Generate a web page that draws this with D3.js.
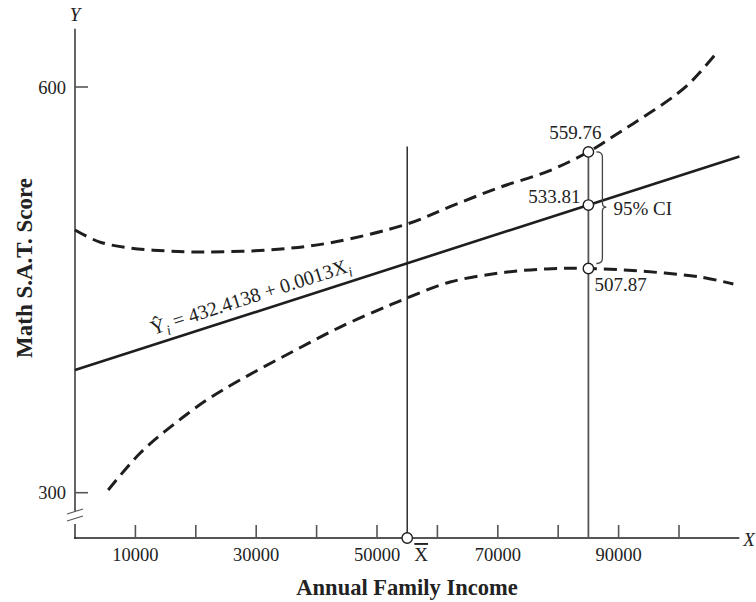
<!DOCTYPE html>
<html>
<head>
<meta charset="utf-8">
<script src="https://cdn.jsdelivr.net/npm/d3@7"></script>
<style>
  html, body { margin: 0; padding: 0; background: #fff; }
  svg text { font-family: "Liberation Serif", "Times New Roman", serif; fill: #222; }
</style>
</head>
<body>
<svg id="chart" width="756" height="602"></svg>
<script>
// ---- data ----
const xTickValues = [10000, 20000, 30000, 40000, 50000, 60000, 70000, 80000, 90000, 100000];
const xTickLabels = [10000, 30000, 50000, 70000, 90000];
const yTickValues = [300, 600];

// fitted line as drawn
const lineX = [0, 110000];
const lineY = [390.7, 548.6];

// upper 95% confidence band (as drawn)
const upperX = [0, 4000, 9000, 15000, 21000, 32000, 42000, 55000, 62000, 70000, 78500, 85000, 88600, 91400, 94000, 96900, 99700, 101800, 103500, 106000];
const upperY = [494.3, 485.5, 481.0, 478.8, 478.0, 479.5, 484.6, 498.7, 511.3, 525.3, 538.0, 552.0, 562.0, 570.0, 577.5, 586.0, 595.0, 603.0, 611.0, 624.0];

// lower 95% confidence band (as drawn)
const lowerX = [5500, 10800, 16200, 21800, 27300, 35600, 43900, 52200, 55000, 62100, 70400, 78000, 85000, 93500, 103500, 109000];
const lowerY = [302.0, 329.4, 350.0, 368.5, 383.3, 403.3, 422.5, 438.8, 444.0, 455.8, 462.5, 465.5, 465.8, 463.9, 459.5, 454.3];

const xBar = 55000;
const xBarTop = 556;
const x0 = 85000;
const ciLabels = ["559.76", "533.81", "507.87"];

// ---- scales ----
const svg = d3.select("#chart");
const x = d3.scaleLinear().domain([0, 110000]).range([75, 739.4]);
const y = d3.scaleLinear().domain([300, 600]).range([492.7, 87]);
const yAxisTop = 643;

const ink = "#1e1e1e";
const axisCol = "#555";

// ---- axes ----
// y axis (broken near bottom)
svg.append("line").attr("x1", x(0)).attr("x2", x(0)).attr("y1", y(yAxisTop)).attr("y2", 511)
  .attr("stroke", axisCol).attr("stroke-width", 1.8);
svg.append("line").attr("x1", x(0)).attr("x2", x(0)).attr("y1", 524).attr("y2", 538.8)
  .attr("stroke", axisCol).attr("stroke-width", 1.8);
// break marks
[0, 7].forEach(dy => {
  svg.append("line").attr("x1", 67).attr("y1", 514 + dy).attr("x2", 83).attr("y2", 509 + dy)
    .attr("stroke", axisCol).attr("stroke-width", 1.2);
});
// x axis
svg.append("line").attr("x1", x(0) - 0.9).attr("x2", x(110000)).attr("y1", 538).attr("y2", 538)
  .attr("stroke", ink).attr("stroke-width", 1.6);

// x ticks (pointing up)
svg.selectAll(".xt").data(xTickValues).enter().append("line")
  .attr("x1", d => x(d)).attr("x2", d => x(d)).attr("y1", 538).attr("y2", 525)
  .attr("stroke", axisCol).attr("stroke-width", 1.6);
svg.selectAll(".xl").data(xTickLabels).enter().append("text")
  .attr("x", d => x(d)).attr("y", 561).attr("text-anchor", "middle")
  .attr("font-size", 18.5).text(d => d);

// y ticks (pointing right)
svg.selectAll(".yt").data(yTickValues).enter().append("line")
  .attr("x1", x(0)).attr("x2", x(0) + 13).attr("y1", d => y(d)).attr("y2", d => y(d))
  .attr("stroke", axisCol).attr("stroke-width", 1.6);
svg.selectAll(".yl").data(yTickValues).enter().append("text")
  .attr("x", 66).attr("y", d => y(d) + 6.5).attr("text-anchor", "end")
  .attr("font-size", 18.5).text(d => d);

// axis letters
svg.append("text").attr("x", 75).attr("y", 21).attr("text-anchor", "middle")
  .attr("font-size", 19).attr("font-style", "italic").text("Y");
svg.append("text").attr("x", 749).attr("y", 546).attr("text-anchor", "middle")
  .attr("font-size", 19).attr("font-style", "italic").text("X");

// axis titles
svg.append("text").attr("x", 407).attr("y", 595).attr("text-anchor", "middle")
  .attr("font-size", 22.5).attr("font-weight", "bold").text("Annual Family Income");
svg.append("text").attr("transform", "translate(32,268) rotate(-90)").attr("text-anchor", "middle")
  .attr("font-size", 23).attr("font-weight", "bold").text("Math S.A.T. Score");

// ---- vertical reference lines ----
svg.append("line").attr("x1", x(xBar)).attr("x2", x(xBar)).attr("y1", y(xBarTop)).attr("y2", 538)
  .attr("stroke", ink).attr("stroke-width", 1.4);
svg.append("line").attr("x1", x(x0)).attr("x2", x(x0))
  .attr("y1", y(upperY[upperX.indexOf(x0)])).attr("y2", 538)
  .attr("stroke", axisCol).attr("stroke-width", 1.8);

// ---- curves ----
const gen = d3.line().x(d => x(d[0])).y(d => y(d[1])).curve(d3.curveCatmullRom);
svg.append("path").datum(upperX.map((v, i) => [v, upperY[i]])).attr("d", gen)
  .attr("fill", "none").attr("stroke", ink).attr("stroke-width", 3).attr("stroke-dasharray", "13,7");
svg.append("path").datum(lowerX.map((v, i) => [v, lowerY[i]])).attr("d", gen)
  .attr("fill", "none").attr("stroke", ink).attr("stroke-width", 3).attr("stroke-dasharray", "13,7");
svg.append("path").datum(lineX.map((v, i) => [v, lineY[i]])).attr("d", d3.line().x(d => x(d[0])).y(d => y(d[1])))
  .attr("fill", "none").attr("stroke", ink).attr("stroke-width", 2.6);

// ---- equation label ----
const lineAt = v => lineY[0] + (lineY[1] - lineY[0]) * (v - lineX[0]) / (lineX[1] - lineX[0]);
const angle = Math.atan2(y(lineAt(110000)) - y(lineAt(0)), x(110000) - x(0)) * 180 / Math.PI;
const eq = svg.append("text")
  .attr("transform", `translate(${x(12900)},${y(lineAt(12900)) - 10}) rotate(${angle})`)
  .attr("font-size", 20);
eq.append("tspan").text("Ŷ");
eq.append("tspan").attr("font-size", 14).attr("font-style", "italic").attr("dy", 5).text("i");
eq.append("tspan").attr("dy", -5).text(" = 432.4138 + 0.0013X");
eq.append("tspan").attr("font-size", 14).attr("font-style", "italic").attr("dy", 5).text("i");

// ---- CI bracket ----
const ciPts = [upperY[upperX.indexOf(x0)], lineAt(x0), lowerY[lowerX.indexOf(x0)]];
const bx = x(x0) + 8, bTop = y(ciPts[0]), bMid = y(ciPts[1]) + 2, bBot = y(ciPts[2]) - 5;
const bw = 6;
svg.append("path")
  .attr("d", `M${bx},${bTop} Q${bx + bw},${bTop} ${bx + bw},${bTop + 5} L${bx + bw},${bMid - 4} Q${bx + bw},${bMid} ${bx + bw + 4},${bMid} Q${bx + bw},${bMid} ${bx + bw},${bMid + 4} L${bx + bw},${bBot - 5} Q${bx + bw},${bBot} ${bx},${bBot}`)
  .attr("fill", "none").attr("stroke", "#444").attr("stroke-width", 1.3);
svg.append("text").attr("x", bx + bw + 11).attr("y", bMid + 8).attr("font-size", 19).text("95% CI");

// ---- circles ----
svg.selectAll(".ci").data(ciPts).enter().append("circle")
  .attr("cx", x(x0)).attr("cy", d => y(d)).attr("r", 5.2)
  .attr("fill", "#fff").attr("stroke", ink).attr("stroke-width", 1.4);
svg.append("circle").attr("cx", x(xBar)).attr("cy", 538).attr("r", 5.2)
  .attr("fill", "#fff").attr("stroke", ink).attr("stroke-width", 1.4);

// ---- CI value labels ----
svg.append("text").attr("x", x(x0) - 13).attr("y", y(ciPts[0]) - 13).attr("text-anchor", "middle")
  .attr("font-size", 19).text(ciLabels[0]);
svg.append("text").attr("x", x(x0) - 8).attr("y", y(ciPts[1]) - 2).attr("text-anchor", "end")
  .attr("font-size", 19).text(ciLabels[1]);
svg.append("text").attr("x", x(x0) + 6).attr("y", y(ciPts[2]) + 23).attr("text-anchor", "start")
  .attr("font-size", 19).text(ciLabels[2]);

// X-bar label
svg.append("text").attr("x", x(xBar) + 14).attr("y", 561).attr("text-anchor", "middle")
  .attr("font-size", 19).attr("text-decoration", "overline").text("X");
</script>
</body>
</html>
